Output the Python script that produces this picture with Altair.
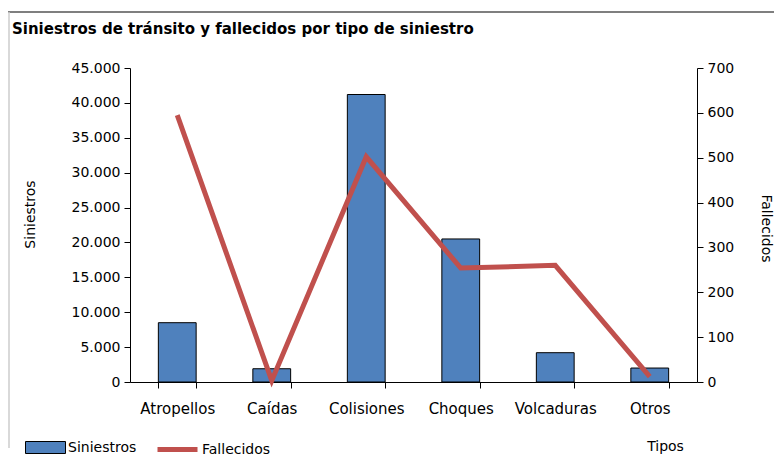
import altair as alt
import pandas as pd

tipos = ["Atropellos", "Caídas", "Colisiones", "Choques", "Volcaduras", "Otros"]
siniestros = [8500, 1900, 41200, 20500, 4200, 2000]
fallecidos = [595, 3, 502, 254, 260, 12]

df = pd.DataFrame({"Tipo": tipos, "Siniestros": siniestros, "Fallecidos": fallecidos})

FONT = "DejaVu Sans"
BLUE = "#4F81BD"
RED = "#C0504D"

x = alt.X(
    "Tipo:N",
    sort=tipos,
    scale=alt.Scale(paddingInner=0.6, paddingOuter=0.3),
    axis=alt.Axis(
        title="Tipos",
        labelAngle=0,
        tickBand="extent",
        tickSize=6,
        labelPadding=13,
        labelFont=FONT,
        labelFontSize=15,
        labelColor="#000",
        domainColor="#000",
        tickColor="#000",
        titleFont=FONT,
        titleFontSize=14,
        titleFontWeight="normal",
        titleColor="#000",
        titleX=535,
        titleY=64,
        titleAlign="center",
        titleBaseline="middle",
    ),
)

bars = alt.Chart(df).transform_calculate(serie1="'Siniestros'").mark_bar(stroke="#000", strokeWidth=1).encode(
    x=x,
    y=alt.Y(
        "Siniestros:Q",
        scale=alt.Scale(domain=[0, 45000], nice=False),
        axis=alt.Axis(
            orient="left",
            title="Siniestros",
            values=list(range(0, 45001, 5000)),
            labelExpr="replace(format(datum.value, ','), ',', '.')",
            grid=False,
            tickSize=6,
            labelPadding=4,
            labelFont=FONT,
            labelFontSize=14,
            labelColor="#000",
            domainColor="#000",
            tickColor="#000",
            titleFont=FONT,
            titleFontSize=14,
            titleFontWeight="normal",
            titleColor="#000",
            titleX=-100,
            titleY=146,
            titleAngle=270,
            titleAlign="center",
            titleBaseline="middle",
        ),
    ),
    fill=alt.Fill(
        "serie1:N",
        scale=alt.Scale(domain=["Siniestros"], range=[BLUE]),
        legend=alt.Legend(
            title=None,
            orient="none",
            legendX=-105,
            legendY=359,
            symbolType="M-1,-0.3H1V0.3H-1Z",
            symbolSize=1600,
            symbolStrokeColor="#000",
            symbolStrokeWidth=1,
            labelFont=FONT,
            labelFontSize=14,
            labelColor="#000",
            labelOffset=2,
            padding=0,
        ),
    ),
)

line = alt.Chart(df).transform_calculate(serie2="'Fallecidos'").mark_line(strokeWidth=5).encode(
    x=x,
    y=alt.Y(
        "Fallecidos:Q",
        scale=alt.Scale(domain=[0, 700], nice=False),
        axis=alt.Axis(
            orient="right",
            title="Fallecidos",
            values=list(range(0, 701, 100)),
            grid=False,
            tickSize=6,
            labelPadding=4,
            labelFont=FONT,
            labelFontSize=14,
            labelColor="#000",
            domainColor="#000",
            tickColor="#000",
            titleFont=FONT,
            titleFontSize=14,
            titleFontWeight="normal",
            titleColor="#000",
            titleX=68,
            titleY=160,
            titleAngle=90,
            titleAlign="center",
            titleBaseline="middle",
        ),
    ),
    stroke=alt.Stroke(
        "serie2:N",
        scale=alt.Scale(domain=["Fallecidos"], range=[RED]),
        legend=alt.Legend(
            title=None,
            orient="none",
            legendX=25,
            legendY=359,
            symbolType="M-1,0H1",
            symbolSize=1600,
            symbolStrokeWidth=5,
            labelFont=FONT,
            labelFontSize=14,
            labelColor="#000",
            labelOffset=2,
            padding=0,
        ),
    ),
)

frame_data = alt.Data(values=[{"k": 1}])
top_border = alt.Chart(frame_data).mark_rule(color="#555555", strokeWidth=1.5).encode(
    x=alt.value(-122), x2=alt.value(644), y=alt.value(-56)
)
left_border = alt.Chart(frame_data).mark_rule(color="#cccccc", strokeWidth=1.5).encode(
    x=alt.value(-121), y=alt.value(-56), y2=alt.value(380)
)

chart = (
    alt.layer(bars, line, top_border, left_border)
    .resolve_scale(y="independent")
    .properties(
        width=567,
        height=314,
        autosize=alt.AutoSizeParams(type="none"),
        padding={"left": 122, "top": 60, "right": 77, "bottom": 74},
        background="white",
        title=alt.TitleParams(
            "Siniestros de tránsito y fallecidos por tipo de siniestro",
            anchor="start",
            frame="group",
            dx=-118,
            offset=-26,
            font=FONT,
            fontSize=15,
            fontWeight="bold",
            color="#000",
        ),
    )
    .configure_view(stroke=None)
)

chart.save("out.html", embed_options={"renderer": "svg", "actions": False})
